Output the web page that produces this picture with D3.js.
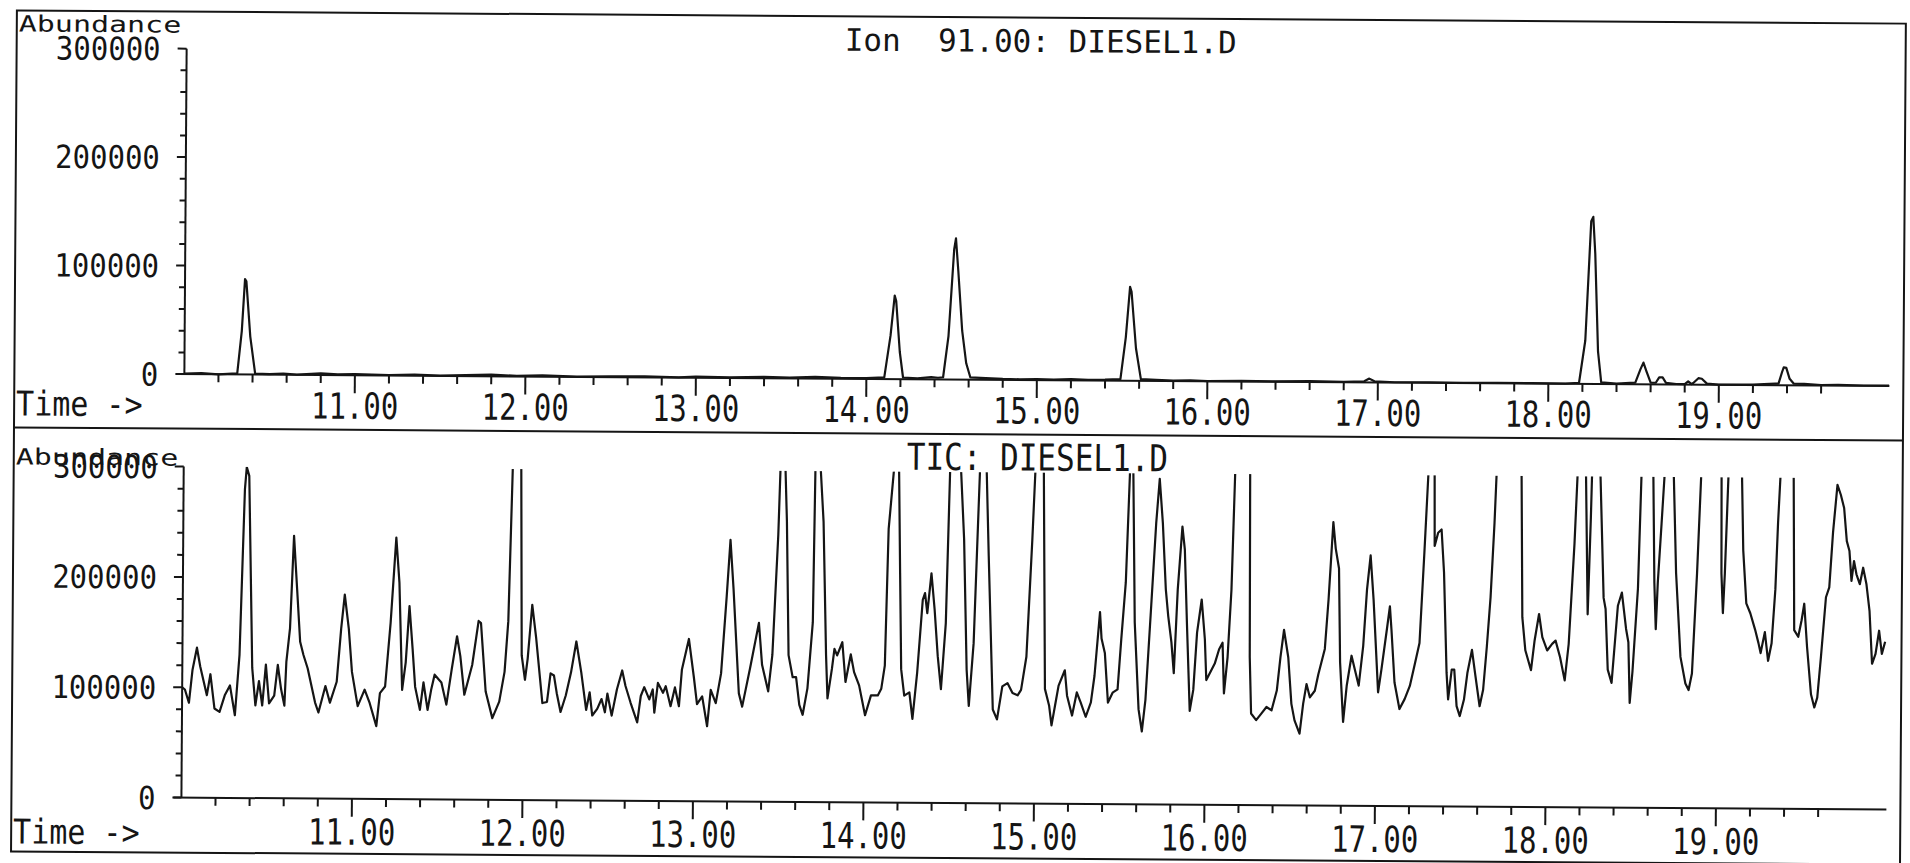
<!DOCTYPE html>
<html>
<head>
<meta charset="utf-8">
<script src="https://cdn.jsdelivr.net/npm/d3@7"></script>
<style>
body { margin: 0; background: #fff; }
svg { display: block; }
text { font-family: "DejaVu Sans Mono", monospace; fill: #151515; white-space: pre; }
</style>
</head>
<body>
<svg id="chart" width="1910" height="863"></svg>
<script>
// tick labels
var timeTicks = [11, 12, 13, 14, 15, 16, 17, 18, 19];
var timeLabels = ["11.00", "12.00", "13.00", "14.00", "15.00", "16.00", "17.00", "18.00", "19.00"];
var abundTicks = [0, 100000, 200000, 300000];
var abundLabels = ["0", "100000", "200000", "300000"];

var ionTitle = "Ion  91.00: DIESEL1.D";
var ticTitle = "TIC: DIESEL1.D";

// Ion 91 trace, [time (min), abundance]
var ionTrace = [
  [10.00,500],[10.10,1000],[10.20,0],[10.28,800],[10.31,1000],[10.335,40000],[10.352,88000],[10.36,86000],
  [10.385,35000],[10.415,1000],[10.50,500],[10.58,1200],[10.66,300],[10.80,1500],[10.90,800],[11.00,1200],
  [11.20,500],[11.35,1000],[11.50,300],[11.65,800],[11.80,1500],[11.95,500],[12.10,1200],[12.30,300],
  [12.50,800],[12.70,1000],[12.90,200],[13.00,900],[13.20,500],[13.40,1200],[13.55,600],[13.70,1500],
  [13.85,800],[14.00,700],[14.105,1500],[14.14,40000],[14.163,77000],[14.172,72000],[14.195,25000],[14.215,1500],
  [14.30,800],[14.38,2000],[14.42,1500],[14.45,2000],[14.48,40000],[14.51,120000],[14.52,130000],[14.535,100000],
  [14.56,45000],[14.585,15000],[14.61,2000],[14.70,1500],[14.80,800],[14.90,600],[15.00,1000],[15.10,500],
  [15.20,1200],[15.30,600],[15.40,800],[15.49,1500],[15.52,40000],[15.543,86500],[15.552,82000],[15.58,30000],
  [15.61,1500],[15.70,1000],[15.80,300],[15.90,800],[16.00,200],[16.20,600],[16.40,300],[16.60,800],
  [16.80,400],[16.92,1000],[16.95,3500],[16.98,1000],[17.10,300],[17.30,500],[17.50,200],[17.70,500],
  [17.90,300],[18.10,200],[18.18,1000],[18.215,40000],[18.245,150000],[18.257,154000],[18.27,120000],[18.29,30000],
  [18.31,1500],[18.40,500],[18.48,1200],[18.51,1500],[18.54,14000],[18.557,20000],[18.575,12000],[18.60,1500],
  [18.63,1500],[18.65,6500],[18.67,6500],[18.69,1500],[18.75,500],[18.80,500],[18.82,3000],[18.84,500],
  [18.85,1500],[18.88,6000],[18.90,5500],[18.93,1000],[19.00,200],[19.20,500],[19.33,1500],[19.35,1500],
  [19.37,12000],[19.38,16500],[19.395,16000],[19.415,6000],[19.44,1500],[19.50,1500],[19.60,500],[19.70,800],
  [19.85,300],[20.00,500]
];

// TIC trace, [time (min), abundance]; values above 300000 are clipped off the plot
var ticTrace = [
  [10.00,100000],[10.016,98000],[10.04,86000],[10.06,116000],[10.085,136000],[10.105,119000],[10.145,93000],[10.165,112000],
  [10.19,81000],[10.22,78000],[10.25,93000],[10.28,102000],[10.31,75000],[10.335,130000],[10.36,280000],[10.37,300000],
  [10.385,292000],[10.41,118000],[10.43,84000],[10.45,106000],[10.47,84000],[10.49,121000],[10.51,86000],[10.54,93000],
  [10.56,121000],[10.58,99000],[10.60,84000],[10.61,124000],[10.63,154000],[10.65,238000],[10.67,190000],[10.69,142000],
  [10.71,130000],[10.735,118000],[10.78,87000],[10.80,78000],[10.84,102000],[10.867,87000],[10.906,106000],[10.93,154000],
  [10.95,185000],[10.975,154000],[10.995,115000],[11.03,84000],[11.07,99000],[11.10,87000],[11.14,66000],[11.16,96000],
  [11.19,102000],[11.22,160000],[11.25,237000],[11.27,196000],[11.29,99000],[11.31,124000],[11.33,175000],[11.35,136000],
  [11.366,102000],[11.395,81000],[11.415,106000],[11.44,81000],[11.46,99000],[11.48,113000],[11.52,106000],[11.55,86000],
  [11.58,118000],[11.61,148000],[11.63,130000],[11.655,95000],[11.70,122000],[11.736,162000],[11.75,160000],[11.78,98000],
  [11.82,74000],[11.86,89000],[11.89,116000],[11.91,162000],[11.93,300000],[11.955,450000],[11.98,300000],[11.99,131000],
  [12.01,109000],[12.025,128000],[12.05,177000],[12.074,147000],[12.113,88000],[12.14,89000],[12.16,115000],[12.18,113000],
  [12.197,97000],[12.22,80000],[12.25,95000],[12.28,116000],[12.31,144000],[12.34,116000],[12.37,82000],[12.39,98000],
  [12.406,77000],[12.435,83000],[12.46,92000],[12.48,80000],[12.494,97000],[12.52,77000],[12.55,101000],[12.58,118000],
  [12.60,104000],[12.63,89000],[12.67,71000],[12.69,95000],[12.71,103000],[12.74,92000],[12.76,101000],[12.77,80000],
  [12.79,107000],[12.82,98000],[12.836,104000],[12.865,86000],[12.89,103000],[12.914,86000],[12.93,119000],[12.97,147000],
  [13.00,113000],[13.02,88000],[13.05,95000],[13.08,68000],[13.10,101000],[13.13,89000],[13.16,116000],[13.19,186000],
  [13.21,237000],[13.23,192000],[13.265,98000],[13.285,86000],[13.33,121000],[13.38,162000],[13.40,124000],[13.437,100000],
  [13.46,133000],[13.49,242000],[13.50,300000],[13.515,450000],[13.53,300000],[13.54,254000],[13.555,133000],[13.58,113000],
  [13.60,113000],[13.62,88000],[13.64,79000],[13.667,103000],[13.696,163000],[13.705,300000],[13.72,450000],[13.737,300000],
  [13.755,254000],[13.775,133000],[13.785,94000],[13.81,121000],[13.824,139000],[13.84,133000],[13.87,145000],[13.89,109000],
  [13.92,134000],[13.94,118000],[13.97,106000],[14.006,79000],[14.04,97000],[14.08,97000],[14.10,103000],[14.12,124000],
  [14.137,248000],[14.15,272000],[14.165,300000],[14.18,320000],[14.196,300000],[14.206,208000],[14.216,121000],[14.235,97000],
  [14.265,100000],[14.284,76000],[14.31,118000],[14.34,184000],[14.353,190000],[14.367,172000],[14.39,208000],[14.41,175000],
  [14.43,133000],[14.45,103000],[14.476,163000],[14.495,300000],[14.53,500000],[14.56,300000],[14.58,239000],[14.60,121000],
  [14.614,88000],[14.64,145000],[14.67,300000],[14.69,450000],[14.71,300000],[14.725,224000],[14.755,85000],[14.78,76000],
  [14.81,106000],[14.84,109000],[14.87,100000],[14.90,98000],[14.92,103000],[14.95,133000],[14.98,239000],[14.995,300000],
  [15.022,450000],[15.045,300000],[15.06,104000],[15.085,89000],[15.10,71000],[15.12,89000],[15.14,107000],[15.176,121000],
  [15.19,98000],[15.22,80000],[15.247,101000],[15.27,92000],[15.30,79000],[15.33,92000],[15.35,116000],[15.38,174000],
  [15.39,150000],[15.41,137000],[15.43,92000],[15.457,101000],[15.486,104000],[15.506,150000],[15.53,201000],[15.55,300000],
  [15.56,420000],[15.57,300000],[15.584,165000],[15.61,86000],[15.63,66000],[15.65,95000],[15.68,180000],[15.706,255000],
  [15.725,295000],[15.745,255000],[15.765,195000],[15.78,171000],[15.80,147000],[15.815,119000],[15.835,195000],[15.86,252000],
  [15.875,231000],[15.89,165000],[15.91,85000],[15.93,104000],[15.95,156000],[15.976,186000],[15.996,150000],[16.006,113000],
  [16.035,122000],[16.055,128000],[16.08,141000],[16.10,147000],[16.11,101000],[16.13,134000],[16.15,195000],[16.167,300000],
  [16.21,520000],[16.255,300000],[16.26,134000],[16.27,83000],[16.30,77000],[16.33,83000],[16.36,89000],[16.39,86000],
  [16.42,104000],[16.44,134000],[16.46,159000],[16.486,134000],[16.506,92000],[16.525,77000],[16.555,65000],[16.575,92000],
  [16.594,110000],[16.614,98000],[16.643,104000],[16.663,119000],[16.70,142000],[16.72,187000],[16.745,257000],[16.76,233000],
  [16.78,215000],[16.79,130000],[16.81,76000],[16.83,109000],[16.857,136000],[16.876,124000],[16.90,109000],[16.925,145000],
  [16.945,196000],[16.965,227000],[16.984,187000],[17.014,103000],[17.033,124000],[17.063,160000],[17.08,181000],[17.09,160000],
  [17.11,112000],[17.14,88000],[17.17,97000],[17.20,109000],[17.23,130000],[17.255,148000],[17.28,230000],[17.30,300000],
  [17.318,380000],[17.337,300000],[17.34,236000],[17.36,248000],[17.38,251000],[17.396,212000],[17.415,121000],[17.425,97000],
  [17.445,124000],[17.46,124000],[17.475,91000],[17.494,82000],[17.518,97000],[17.537,121000],[17.563,142000],[17.582,121000],
  [17.61,91000],[17.63,106000],[17.65,145000],[17.67,190000],[17.69,257000],[17.70,300000],[17.775,550000],[17.847,300000],
  [17.857,172000],[17.876,142000],[17.91,124000],[17.93,151000],[17.955,175000],[17.975,154000],[18.004,142000],[18.033,148000],
  [18.053,151000],[18.08,136000],[18.108,115000],[18.13,148000],[18.16,239000],[18.175,300000],[18.20,420000],[18.225,300000],
  [18.233,233000],[18.24,175000],[18.255,263000],[18.26,300000],[18.285,420000],[18.31,300000],[18.333,190000],[18.345,180000],
  [18.36,125000],[18.383,113000],[18.417,183000],[18.44,195000],[18.466,162000],[18.48,150000],[18.49,95000],[18.505,123000],
  [18.534,199000],[18.55,300000],[18.585,480000],[18.62,300000],[18.63,204000],[18.64,162000],[18.65,204000],[18.67,258000],
  [18.685,300000],[18.712,420000],[18.74,300000],[18.757,213000],[18.786,137000],[18.816,113000],[18.835,107000],[18.854,122000],
  [18.88,213000],[18.90,300000],[18.96,520000],[19.02,300000],[19.023,213000],[19.033,177000],[19.043,213000],[19.06,300000],
  [19.10,500000],[19.14,300000],[19.15,234000],[19.17,186000],[19.194,177000],[19.223,162000],[19.243,150000],[19.256,141000],
  [19.28,160000],[19.30,134000],[19.32,150000],[19.34,199000],[19.353,259000],[19.365,300000],[19.405,480000],[19.443,300000],
  [19.452,162000],[19.476,156000],[19.495,171000],[19.51,186000],[19.528,147000],[19.553,104000],[19.573,92000],[19.59,101000],
  [19.61,138000],[19.637,192000],[19.656,201000],[19.676,251000],[19.70,294000],[19.72,285000],[19.74,273000],[19.757,243000],
  [19.773,234000],[19.786,207000],[19.80,225000],[19.815,213000],[19.835,204000],[19.854,219000],[19.874,204000],[19.893,180000],
  [19.91,132000],[19.93,141000],[19.95,162000],[19.967,141000],[19.986,152000]
];

var ink = "#151515";
var svg = d3.select("#chart");
var defs = svg.append("defs");
// the scanned page is a little skewed
var g = svg.append("g").attr("transform", "rotate(0.4,955,430)");

// outer frame and divider
g.append("rect").attr("x", 14).attr("y", 17).attr("width", 1889).attr("height", 841)
  .attr("fill", "none").attr("stroke", ink).attr("stroke-width", 2);
g.append("line").attr("x1", 14).attr("x2", 1903).attr("y1", 434).attr("y2", 434)
  .attr("stroke", ink).attr("stroke-width", 2);

var x = d3.scaleLinear().domain([10, 20]).range([184, 1889]);

function txt(sel, s, px, py, size, sy, anchor) {
  return sel.append("text")
    .attr("transform", "translate(" + px + "," + py + ") scale(1," + sy + ")")
    .attr("font-size", size)
    .attr("text-anchor", anchor || "start")
    .text(s);
}

function panel(p) {
  var y = d3.scaleLinear().domain([0, 300000]).range([p.y0, p.y1]);
  var pg = g.append("g");

  // y axis
  pg.append("line").attr("x1", x(10)).attr("x2", x(10)).attr("y1", y(0)).attr("y2", y(300000))
    .attr("stroke", ink).attr("stroke-width", 2);
  pg.selectAll(".yt").data(d3.range(0, 300001, 20000)).enter().append("line")
    .attr("x1", function(d) { return x(10) - (d % 100000 == 0 ? 9 : 6); })
    .attr("x2", x(10))
    .attr("y1", function(d) { return y(d); })
    .attr("y2", function(d) { return y(d); })
    .attr("stroke", ink).attr("stroke-width", 2);
  abundTicks.forEach(function(v, i) {
    txt(pg, abundLabels[i], 158, y(v) + 11.7, 29, 1.1, "end");
  });

  // x axis
  pg.append("line").attr("x1", 176).attr("x2", x(20)).attr("y1", y(0)).attr("y2", y(0))
    .attr("stroke", ink).attr("stroke-width", 2);
  pg.selectAll(".xt").data(d3.range(51, 99)).enter().append("line")
    .attr("x1", function(i) { return x(i / 5); })
    .attr("x2", function(i) { return x(i / 5); })
    .attr("y1", y(0))
    .attr("y2", function(i) { return y(0) + (i % 5 == 0 ? 18 : 8); })
    .attr("stroke", ink).attr("stroke-width", 2);
  timeTicks.forEach(function(t, i) {
    txt(pg, timeLabels[i], x(t), p.labY, 29, 1.25, "middle");
  });

  txt(pg, "Time ->", 16, p.timeY, 30, 1.14);
  txt(pg, "Abundance", 16, p.abY, 30, 0.75);
  txt(pg, p.title, p.titleX, p.titleY, 31, p.titleSY);

  // trace, cut off at full scale
  defs.append("clipPath").attr("id", p.id)
    .append("rect").attr("x", x(10)).attr("y", y(300000))
    .attr("width", x(20) - x(10)).attr("height", y(0) - y(300000) + 20);
  var line = d3.line().x(function(d) { return x(d[0]); }).y(function(d) { return y(d[1]); });
  pg.append("path").datum(p.trace)
    .attr("clip-path", "url(#" + p.id + ")")
    .attr("d", line)
    .attr("fill", "none").attr("stroke", ink).attr("stroke-width", 2.2)
    .attr("stroke-linejoin", "round");
}

panel({ id: "clipIon", y0: 379.5, y1: 54, trace: ionTrace, title: ionTitle,
        titleX: 842, titleY: 51.5, titleSY: 1.0, abY: 38, timeY: 422, labY: 423 });
panel({ id: "clipTic", y0: 803, y1: 472, trace: ticTrace, title: ticTitle,
        titleX: 907, titleY: 470, titleSY: 1.2, abY: 471, timeY: 850, labY: 849 });
</script>
</body>
</html>
